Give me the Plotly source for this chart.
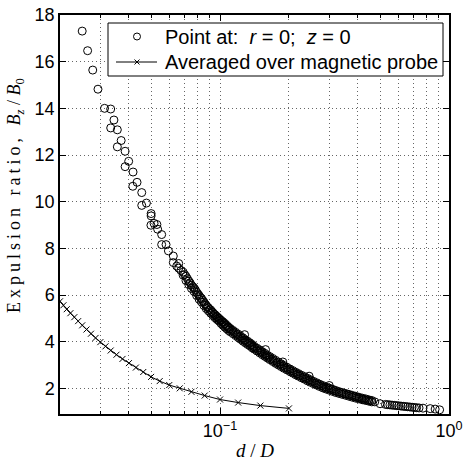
import plotly.graph_objects as go

# ---- data: circles (point at r=0, z=0) ----
circ_x = [
    0.0250, 0.0264, 0.0278, 0.0293, 0.0313, 0.0333, 0.0344, 0.0333, 0.0356, 0.0370,
    0.0356, 0.0385, 0.0399, 0.0385, 0.0417, 0.0434, 0.0416, 0.0455, 0.0477, 0.0455,
    0.0500, 0.0500, 0.0499, 0.0515, 0.0530, 0.0534, 0.0556, 0.0556, 0.0581, 0.0595,
    0.0625, 0.0625, 0.0647,
    0.066, 0.066, 0.069, 0.069, 0.071, 0.071, 0.073, 0.073, 0.075, 0.075,
    0.077, 0.077, 0.079, 0.079, 0.081, 0.081, 0.083, 0.083, 0.085, 0.085,
    0.087, 0.087, 0.089, 0.089, 0.091, 0.091, 0.093, 0.093, 0.095, 0.095,
    0.097, 0.097, 0.099, 0.099, 0.101, 0.101, 0.103, 0.103, 0.105, 0.105,
    0.107, 0.107, 0.109, 0.109, 0.111, 0.111, 0.114, 0.114, 0.117, 0.117,
    0.120, 0.120, 0.123, 0.123, 0.126, 0.126, 0.129, 0.129, 0.132, 0.132,
    0.135, 0.135, 0.138, 0.138, 0.141, 0.141, 0.145, 0.145, 0.149, 0.149,
    0.153, 0.153, 0.157, 0.157, 0.161, 0.161, 0.165, 0.165, 0.170, 0.170,
    0.175, 0.175, 0.180, 0.180, 0.185, 0.185, 0.190, 0.190, 0.196, 0.196,
    0.202, 0.202, 0.208, 0.208, 0.214, 0.214, 0.220, 0.220, 0.227, 0.227,
    0.234, 0.234, 0.241, 0.241, 0.248, 0.248, 0.256, 0.256, 0.264, 0.264,
    0.272, 0.272, 0.281, 0.281, 0.290, 0.290, 0.300, 0.300, 0.310, 0.310,
    0.320, 0.320, 0.331, 0.331, 0.342, 0.342, 0.354, 0.354, 0.366, 0.366,
    0.378, 0.378, 0.391, 0.391, 0.404, 0.404, 0.418, 0.418, 0.432, 0.432,
    0.446, 0.446, 0.460, 0.460, 0.474,
    0.500,
    0.528, 0.540, 0.552, 0.564, 0.577, 0.590, 0.603, 0.617, 0.631, 0.645,
    0.660, 0.675, 0.690, 0.706, 0.722, 0.740, 0.770, 0.828, 0.870, 0.910,
    # middle of the band
    0.0675, 0.0700, 0.0720, 0.0740, 0.0760, 0.0780, 0.0800, 0.0820, 0.0840, 0.0860,
    0.0880, 0.0900, 0.0920, 0.0940, 0.0960, 0.0980, 0.1000, 0.1020, 0.1040, 0.1060,
    0.1080, 0.1100, 0.1125, 0.1155, 0.1185, 0.1215, 0.1245, 0.1275, 0.1305, 0.1335,
    0.1365, 0.1395, 0.1430, 0.1470, 0.1510, 0.1550, 0.1590, 0.1630, 0.1675, 0.1725,
    0.1775, 0.1825, 0.1875, 0.1930, 0.1990, 0.2050, 0.2110, 0.2170, 0.2235, 0.2305,
    0.2375, 0.2445, 0.2520, 0.2600, 0.2680, 0.2765, 0.2855, 0.2950, 0.3050, 0.3150,
    0.3255, 0.3365, 0.3480, 0.3600, 0.3720, 0.3845, 0.3975, 0.4110, 0.4250, 0.4390,
    0.4530,
    # a few stray points above the band
    0.128, 0.158, 0.188, 0.245, 0.300,
]
circ_y = [
    17.31, 16.47, 15.64, 14.82, 14.00, 13.97, 13.50, 13.16, 13.08, 12.62,
    12.35, 12.16, 11.73, 11.50, 11.27, 10.83, 10.66, 10.39, 9.94, 9.84,
    9.49, 9.39, 8.99, 9.07, 9.02, 8.82, 8.59, 8.16, 8.16, 7.89,
    7.67, 7.39, 7.24,
    7.15, 7.35, 6.85, 6.98, 6.62, 6.80, 6.45, 6.60, 6.28, 6.42,
    6.15, 6.30, 5.98, 6.12, 5.82, 5.98, 5.70, 5.85, 5.55, 5.70,
    5.42, 5.56, 5.32, 5.45, 5.22, 5.36, 5.12, 5.25, 5.03, 5.16,
    4.95, 5.08, 4.88, 5.00, 4.78, 4.92, 4.70, 4.85, 4.62, 4.78,
    4.55, 4.70, 4.48, 4.62, 4.42, 4.56, 4.34, 4.48, 4.26, 4.40,
    4.18, 4.32, 4.10, 4.24, 4.02, 4.16, 3.95, 4.08, 3.88, 4.02,
    3.82, 3.95, 3.74, 3.88, 3.68, 3.80, 3.60, 3.72, 3.52, 3.65,
    3.44, 3.57, 3.37, 3.50, 3.30, 3.42, 3.23, 3.36, 3.15, 3.28,
    3.07, 3.20, 3.00, 3.12, 2.93, 3.05, 2.86, 2.98, 2.79, 2.90,
    2.72, 2.83, 2.65, 2.76, 2.58, 2.69, 2.52, 2.63, 2.45, 2.56,
    2.39, 2.50, 2.32, 2.43, 2.26, 2.37, 2.20, 2.30, 2.14, 2.24,
    2.08, 2.18, 2.02, 2.12, 1.97, 2.06, 1.92, 2.01, 1.87, 1.96,
    1.82, 1.91, 1.78, 1.86, 1.74, 1.82, 1.70, 1.78, 1.66, 1.74,
    1.62, 1.70, 1.58, 1.66, 1.55, 1.62, 1.51, 1.58, 1.48, 1.55,
    1.45, 1.51, 1.42, 1.48, 1.42,
    1.34,
    1.31, 1.30, 1.29, 1.28, 1.27, 1.26, 1.25, 1.24, 1.23, 1.22,
    1.21, 1.20, 1.19, 1.18, 1.17, 1.16, 1.15, 1.13, 1.11, 1.08,
    # middle of the band
    7.05, 6.88, 6.70, 6.52, 6.36, 6.22, 6.05, 5.90, 5.77, 5.62,
    5.49, 5.38, 5.29, 5.18, 5.09, 5.01, 4.93, 4.84, 4.77, 4.69,
    4.62, 4.55, 4.47, 4.38, 4.30, 4.22, 4.14, 4.07, 3.99, 3.93,
    3.86, 3.78, 3.71, 3.62, 3.55, 3.47, 3.40, 3.33, 3.25, 3.18,
    3.10, 3.03, 2.96, 2.88, 2.81, 2.74, 2.67, 2.61, 2.54, 2.47,
    2.41, 2.35, 2.29, 2.22, 2.16, 2.11, 2.05, 2.00, 1.95, 1.90,
    1.85, 1.81, 1.77, 1.73, 1.69, 1.65, 1.61, 1.57, 1.53, 1.50,
    1.47,
    # a few stray points above the band
    4.30, 3.66, 3.13, 2.52, 2.12,
]

# ---- data: crosses (averaged over magnetic probe) ----
cross_x = [0.2, 0.15, 0.12, 0.1, 0.0857, 0.075, 0.0667, 0.06, 0.0545, 0.05,
           0.0462, 0.0429, 0.04, 0.0375, 0.0353, 0.0333, 0.0316, 0.03, 0.0286, 0.0273,
           0.0261, 0.025, 0.024, 0.0231, 0.0222, 0.0214, 0.0207, 0.02]
cross_y = [1.14, 1.26, 1.39, 1.52, 1.69, 1.85, 2.00, 2.14, 2.31, 2.49,
           2.70, 2.89, 3.08, 3.26, 3.44, 3.62, 3.80, 3.98, 4.16, 4.34,
           4.52, 4.70, 4.88, 5.05, 5.22, 5.39, 5.56, 5.73]

# ---- tick labels ----
x_major_vals = [0.1, 1]
x_major_text = ["10<sup>\u22121</sup>", "10<sup>0</sup>"]
x_minor_vals = [0.02, 0.03, 0.04, 0.05, 0.06, 0.07, 0.08, 0.09,
                0.2, 0.3, 0.4, 0.5, 0.6, 0.7, 0.8, 0.9]
y_tick_vals = [2, 4, 6, 8, 10, 12, 14, 16, 18]
y_tick_text = ["2", "4", "6", "8", "10", "12", "14", "16", "18"]

legend_names = ["Point at:\u00a0 <i>r</i> = 0;\u00a0 <i>z</i> = 0",
                "Averaged over magnetic probe"]
x_title = "<i>d</i> / <i>D</i>"
y_title = ("<span style=\"letter-spacing:4px\">Expulsion ratio, </span>"
           "<i>B</i><sub><i>z</i></sub> / <i>B</i><sub>0</sub>")

SANS = "Liberation Sans, Arial, Helvetica, sans-serif"
SERIF = "Liberation Serif, DejaVu Serif, serif"

W, H = 465, 466
ML, MR, MT, MB = 60, 16, 15, 52
PLOT_L, PLOT_R, PLOT_T, PLOT_B = ML, W - MR, MT, H - MB


def px(xp):   # window x pixel -> paper fraction
    return (xp - PLOT_L) / (PLOT_R - PLOT_L)


def py(yp):   # window y pixel -> paper fraction
    return (PLOT_B - yp) / (PLOT_B - PLOT_T)


fig = go.Figure()
fig.add_trace(go.Scatter(
    x=circ_x, y=circ_y, mode="markers", name=legend_names[0], showlegend=False,
    marker=dict(symbol="circle-open", size=8, color="black",
                line=dict(width=1, color="black")),
))
fig.add_trace(go.Scatter(
    x=cross_x, y=cross_y, mode="lines+markers", name=legend_names[1], showlegend=False,
    line=dict(color="black", width=1),
    marker=dict(symbol="x-thin", size=6, color="black",
                line=dict(width=1, color="black")),
))

# legend box drawn by hand (matches the compact MATLAB legend)
row1, row2 = 36.5, 62.0
shapes = [
    dict(type="rect", xref="paper", yref="paper", x0=px(108), x1=px(443),
         y0=py(76), y1=py(23), line=dict(color="black", width=1),
         fillcolor="white", layer="above"),
    dict(type="circle", xref="paper", yref="paper", x0=px(133.5), x1=px(140.5),
         y0=py(row1 + 3.5), y1=py(row1 - 3.5), line=dict(color="black", width=1),
         layer="above"),
    dict(type="line", xref="paper", yref="paper", x0=px(116), x1=px(157),
         y0=py(row2), y1=py(row2), line=dict(color="black", width=1), layer="above"),
    dict(type="line", xref="paper", yref="paper", x0=px(134.5), x1=px(139.5),
         y0=py(row2 - 2.5), y1=py(row2 + 2.5), line=dict(color="black", width=1),
         layer="above"),
    dict(type="line", xref="paper", yref="paper", x0=px(134.5), x1=px(139.5),
         y0=py(row2 + 2.5), y1=py(row2 - 2.5), line=dict(color="black", width=1),
         layer="above"),
]

grid_color = "#666666"
grid_dash = "1px,3px"
fig.update_layout(
    width=W, height=H, autosize=False,
    margin=dict(l=ML, r=MR, t=MT, b=MB, autoexpand=False),
    paper_bgcolor="white", plot_bgcolor="white",
    font=dict(family=SANS, size=18, color="black"),
    showlegend=False,
    shapes=shapes,
    xaxis=dict(
        type="log", range=[-1.69897, 0], automargin=False,
        tickmode="array", tickvals=x_major_vals, ticktext=x_major_text,
        ticks="inside", ticklen=6, tickwidth=1, tickcolor="black",
        showline=True, linecolor="black", linewidth=1.5, mirror="ticks",
        showgrid=True, gridcolor=grid_color, griddash=grid_dash, gridwidth=1,
        zeroline=False, ticklabeloverflow="allow",
        tickfont=dict(family=SANS, size=18),
        minor=dict(tickmode="array", tickvals=x_minor_vals, ticks="inside",
                   ticklen=3, tickcolor="black", showgrid=True,
                   gridcolor=grid_color, griddash=grid_dash, gridwidth=1),
    ),
    yaxis=dict(
        range=[0.9, 18], automargin=False,
        tickmode="array", tickvals=y_tick_vals, ticktext=y_tick_text,
        ticks="inside", ticklen=6, tickwidth=1, tickcolor="black",
        showline=True, linecolor="black", linewidth=1.5, mirror="ticks",
        showgrid=True, gridcolor=grid_color, griddash=grid_dash, gridwidth=1,
        zeroline=False, ticklabeloverflow="allow",
        tickfont=dict(family=SANS, size=18),
    ),
    annotations=[
        dict(text=legend_names[0], xref="paper", yref="paper", x=px(163), y=py(row1),
             xanchor="left", yanchor="middle", showarrow=False,
             font=dict(family=SANS, size=20)),
        dict(text=legend_names[1], xref="paper", yref="paper", x=px(163), y=py(row2),
             xanchor="left", yanchor="middle", showarrow=False,
             font=dict(family=SANS, size=20)),
        dict(text=x_title, xref="paper", yref="paper", x=px(255), y=py(450),
             xanchor="center", yanchor="middle", showarrow=False,
             font=dict(family=SERIF, size=19)),
        dict(text=y_title, xref="paper", yref="paper", x=px(15), y=py(196),
             xanchor="center", yanchor="middle", showarrow=False, textangle=-90,
             font=dict(family=SERIF, size=18)),
    ],
)

# remove the browser's default 8px body margin so the figure fills the window
fig.write_html("out.html", config={"displayModeBar": False},
               post_script="document.body.style.margin='0';"
                           "document.body.style.padding='0';")
